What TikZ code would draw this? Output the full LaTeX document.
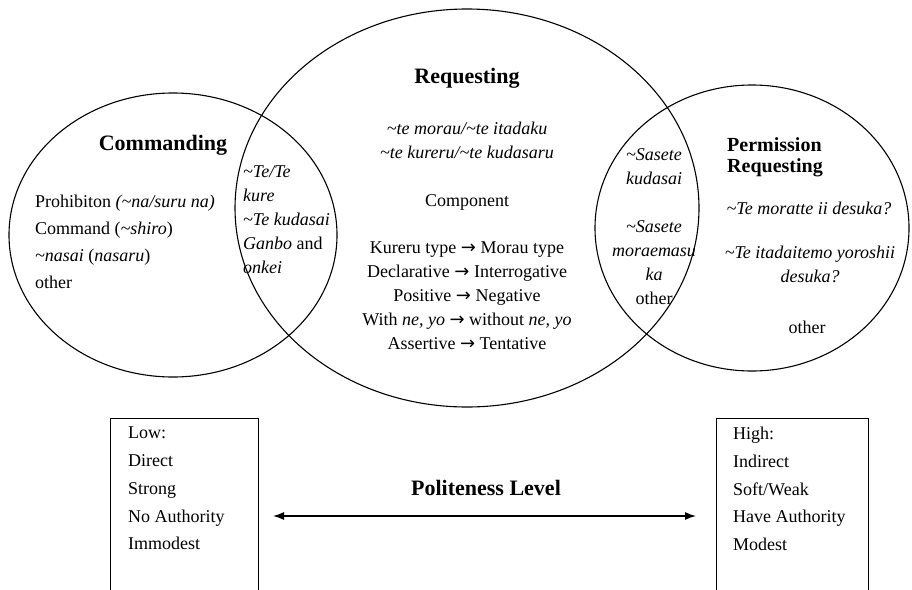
\documentclass[tikz,border=0pt]{standalone}
\usepackage{fontspec}
\setmainfont{Liberation Serif}
\newfontfamily\arrowfont{DejaVu Sans}
\usetikzlibrary{positioning,arrows.meta}
\newcommand{\tld}{\textasciitilde}
\newcommand{\goes}{{\arrowfont →}}

\begin{document}
\begin{tikzpicture}[x=1pt,y=-1pt,
    ring/.style={line width=1.1pt},
    head/.style={font=\fontsize{22}{24}\selectfont\bfseries, inner sep=0pt},
    txt/.style={font=\fontsize{18}{24}\selectfont, inner sep=0pt, align=center},
    list/.style={font=\fontsize{18}{27}\selectfont, inner sep=0pt, align=left},
    levellist/.style={font=\fontsize{18}{27.7}\selectfont, inner sep=0pt, align=left},
    levelbox/.style={draw, line width=1pt, minimum height=200pt, anchor=north west, inner sep=0pt},
    biarrow/.style={{Latex[length=11pt,width=8pt]}-{Latex[length=11pt,width=8pt]}, line width=1.3pt}]
    \useasboundingbox (0,0) rectangle (912,589);
    \clip (0,0) rectangle (912,589);

    % the three fields
    \draw[ring] (173,235) ellipse [x radius=164, y radius=142];
    \draw[ring] (467,208) ellipse [x radius=232, y radius=199];
    \draw[ring] (752,228) ellipse [x radius=157, y radius=143];

    \node[head] (cmd) at (163,145) {Commanding};
    \node[list, anchor=west] (cmdlist) at (35,242) {Prohibiton \textit{(\tld na/suru na)}\\ Command (\textit{\tld shiro})\\ \textit{\tld nasai} (\textit{nasaru})\\ other};
    \node[txt, align=left, anchor=west] (lensL) at (243,220) {\textit{\tld Te/Te}\\ \textit{kure}\\ \textit{\tld Te kudasai}\\ \textit{Ganbo} and\\ \textit{onkei}};

    \node[head] (req) at (467,78) {Requesting};
    \node[txt] (reqforms) at (467,140) {\textit{\tld te morau/\tld te itadaku}\\ \textit{\tld te kureru/\tld te kudasaru}};
    \node[txt] (comp) at (467,202) {Component};
    \node[txt] (shifts) at (467,296) {Kureru type \goes{} Morau type\\ Declarative \goes{} Interrogative\\ Positive \goes{} Negative\\ With \textit{ne, yo} \goes{} without \textit{ne, yo}\\ Assertive \goes{} Tentative};

    \node[txt] (lensR1) at (654,167) {\textit{\tld Sasete}\\ \textit{kudasai}};
    \node[txt] (lensR2) at (654,263) {\textit{\tld Sasete}\\ \textit{moraemasu}\\ \textit{ka}\\ other};

    \node[head, font=\fontsize{20}{21}\selectfont\bfseries, align=left, anchor=west] (perm) at (727,157) {Permission\\ Requesting};
    \node[txt] (permA) at (809,208) {\textit{\tld Te moratte ii desuka?}};
    \node[txt] (permB) at (810,264) {\textit{\tld Te itadaitemo yoroshii}\\ \textit{desuka?}};
    \node[txt] (permC) at (807,327) {other};

    % politeness scale
    \node[levelbox, minimum width=148pt] (lowbox) at (110,418) {};
    \node[levelbox, minimum width=152pt] (highbox) at (716,418) {};
    \node[levellist, below right=9pt and 18pt of lowbox.north west] (lowlist) {Low:\\ Direct\\ Strong\\ No Authority\\ Immodest};
    \node[levellist, below right=9pt and 17pt of highbox.north west] (highlist) {High:\\ Indirect\\ Soft/Weak\\ Have Authority\\ Modest};
    \node[head] (politeness) at (486,488) {Politeness Level};
    \coordinate (levelaxis) at (0,516);
    \draw[biarrow, shorten <=14pt, shorten >=20pt] (lowbox.east |- levelaxis) -- (highbox.west |- levelaxis);
\end{tikzpicture}
\end{document}
